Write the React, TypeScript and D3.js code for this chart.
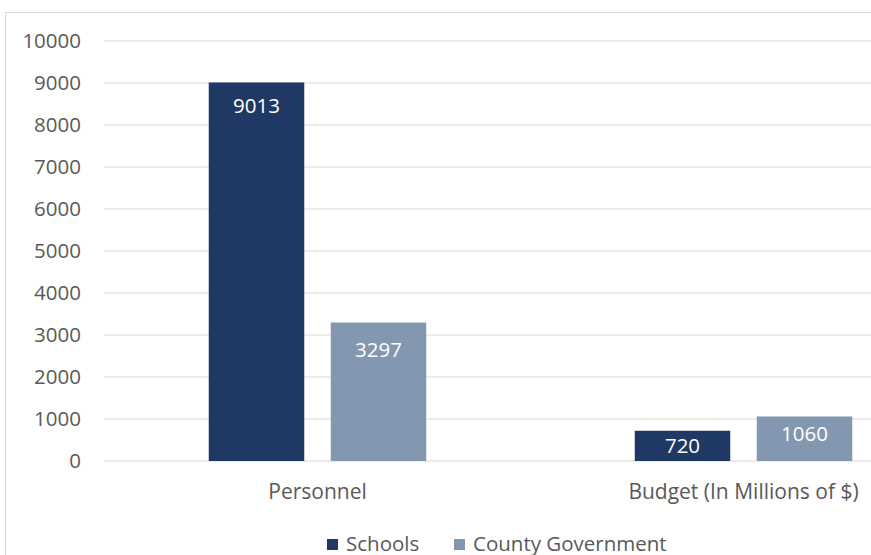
import React from "react";
import * as d3 from "d3";

const categories = ["Personnel", "Budget (In Millions of $)"];
const seriesNames = ["Schools", "County Government"];
const schools = [9013, 720];
const county = [3297, 1060];
const yTicks = [0, 1000, 2000, 3000, 4000, 5000, 6000, 7000, 8000, 9000, 10000];

const colors = ["#203864", "#8497b0"];
const W = 871;
const H = 555;
const FONT = "'Open Sans', sans-serif";

export default function App() {
  const series = [schools, county];
  const x0 = d3.scaleBand<string>().domain(categories).range([104.5, 956.5]).paddingInner(0).paddingOuter(0);
  const y = d3.scaleLinear().domain([0, 10000]).range([461, 41]);
  const barW = 95.5;
  const gap = 26.5;
  const groupW = barW * 2 + gap;
  // label baseline offsets from bar top (inside end)
  const labelDy = [
    [31, 22.5],
    [34, 24.5],
  ];

  return (
    <svg width={W} height={H} style={{ position: "absolute", left: 0, top: 0, background: "#fff" }} fontFamily={FONT}>
      <rect x={0} y={0} width={W} height={H} fill="#fff" />
      <rect x={5.5} y={12.5} width={W + 20} height={H + 20} fill="none" stroke="#d9d9d9" strokeWidth={1} />
      {yTicks.map((t) => (
        <g key={t}>
          <line x1={104} x2={W} y1={y(t)} y2={y(t)} stroke="#d9d9d9" strokeWidth={1} />
          <text x={81} y={y(t)} dy="0.35em" textAnchor="end" fontSize={20.5} fill="#595959">
            {t}
          </text>
        </g>
      ))}
      {categories.map((c, ci) => {
        const cx = (x0(c) ?? 0) + x0.bandwidth() / 2;
        const start = cx - groupW / 2;
        return (
          <g key={c}>
            {series.map((s, si) => {
              const bx = start + si * (barW + gap);
              const top = y(s[ci]);
              return (
                <g key={si}>
                  <rect x={bx} y={top} width={barW} height={y(0) - top} fill={colors[si]} />
                  <text x={bx + barW / 2} y={top + labelDy[si][ci]} textAnchor="middle" fontSize={20.5} fill="#fff">
                    {s[ci]}
                  </text>
                </g>
              );
            })}
            <text x={cx} y={499} textAnchor="middle" fontSize={21} fill="#595959">
              {c}
            </text>
          </g>
        );
      })}
      <g>
        <rect x={327} y={539} width={11} height={11} fill={colors[0]} />
        <text x={346} y={550.5} fontSize={20.5} fill="#595959">{seriesNames[0]}</text>
        <rect x={454} y={539} width={11} height={11} fill={colors[1]} />
        <text x={473} y={550.5} fontSize={20.5} fill="#595959">{seriesNames[1]}</text>
      </g>
    </svg>
  );
}
